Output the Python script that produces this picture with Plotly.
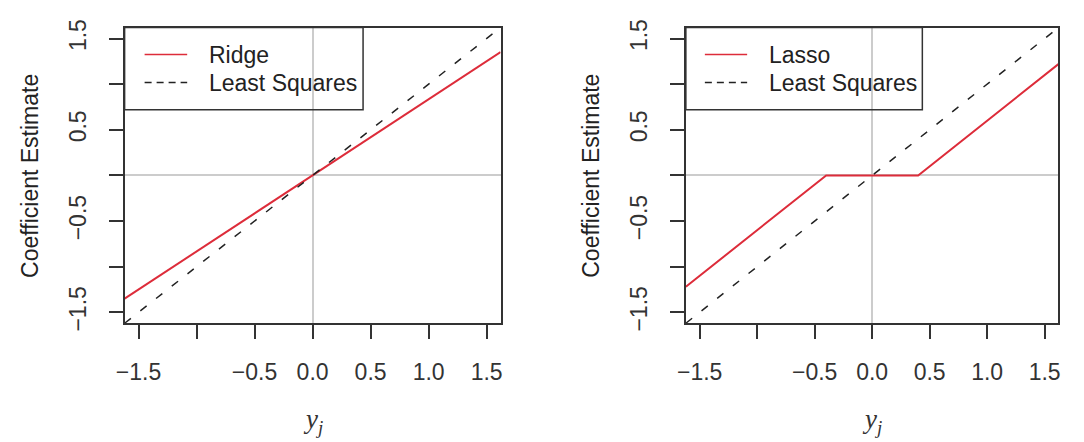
import plotly.graph_objects as go

# ---- data ----
ls_x = [-1.62, 1.62]
ls_y = [-1.62, 1.62]
ridge_x = [-1.62, 1.62]
ridge_y = [-1.35, 1.35]
lasso_x = [-1.62, -0.40, 0.40, 1.62]
lasso_y = [-1.22, 0.0, 0.0, 1.22]

tick_vals = [-1.5, -1.0, -0.5, 0.0, 0.5, 1.0, 1.5]
x_tick_text = ["\u22121.5", "", "\u22120.5", "0.0", "0.5", "1.0", "1.5"]
y_tick_text = ["\u22121.5", "", "\u22120.5", "", "0.5", "", "1.5"]

W, H = 1084, 442
RED = "#DD2C3A"
DARK = "#333333"
FONT = "Liberation Sans, Arial, sans-serif"
FS = 23

def px(x):
    return x / W

def py(y):
    return 1 - y / H

fig = go.Figure()

fig.add_trace(go.Scatter(x=ridge_x, y=ridge_y, mode="lines",
                         line=dict(color=RED, width=2), xaxis="x", yaxis="y",
                         showlegend=False))
fig.add_trace(go.Scatter(x=ls_x, y=ls_y, mode="lines",
                         line=dict(color="#222222", width=1.5, dash="8px,12px"),
                         xaxis="x", yaxis="y", showlegend=False))
fig.add_trace(go.Scatter(x=lasso_x, y=lasso_y, mode="lines",
                         line=dict(color=RED, width=2), xaxis="x2", yaxis="y2",
                         showlegend=False))
fig.add_trace(go.Scatter(x=ls_x, y=ls_y, mode="lines",
                         line=dict(color="#222222", width=1.5, dash="8px,12px"),
                         xaxis="x2", yaxis="y2", showlegend=False))

xcommon = dict(range=[-1.62, 1.62], tickvals=tick_vals, ticktext=x_tick_text,
               ticks="outside", ticklen=14, tickwidth=1.5, tickcolor=DARK,
               showline=True, linecolor=DARK, linewidth=1.5, mirror=True,
               showgrid=False, zeroline=True, zerolinecolor="#CCCCCC",
               zerolinewidth=1.5, tickfont=dict(family=FONT, size=FS, color=DARK),
               ticklabelstandoff=13, fixedrange=True)
ycommon = dict(range=[-1.62, 1.62], tickvals=tick_vals, ticktext=y_tick_text,
               ticks="outside", ticklen=14, tickwidth=1.5, tickcolor=DARK,
               showline=True, linecolor=DARK, linewidth=1.5, mirror=True,
               showgrid=False, zeroline=True, zerolinecolor="#CCCCCC",
               zerolinewidth=1.5, tickangle=-90,
               tickfont=dict(family=FONT, size=FS, color=DARK),
               ticklabelstandoff=14, fixedrange=True)

fig.update_layout(
    width=W, height=H,
    margin=dict(l=0, r=0, t=0, b=0),
    paper_bgcolor="white", plot_bgcolor="white",
    xaxis=dict(domain=[px(116.8), px(496.6)], anchor="y", **xcommon),
    yaxis=dict(domain=[py(327.1), py(20.3)], anchor="x", **ycommon),
    xaxis2=dict(domain=[px(683.8), px(1060.2)], anchor="y2", **xcommon),
    yaxis2=dict(domain=[py(327.1), py(20.3)], anchor="x2", **ycommon),
)

shapes = []
annotations = []

def add_panel_deco(box_l, box_r, line_l, line_r, text_x, label, ytitle_x, xtitle_x):
    shapes.append(dict(type="rect", xref="paper", yref="paper",
                       x0=px(box_l), x1=px(box_r), y0=py(105.7), y1=py(20.3),
                       line=dict(color=DARK, width=1.5), fillcolor="rgba(0,0,0,0)"))
    shapes.append(dict(type="line", xref="paper", yref="paper",
                       x0=px(line_l), x1=px(line_r), y0=py(48.3), y1=py(48.3),
                       line=dict(color=RED, width=1.5)))
    shapes.append(dict(type="line", xref="paper", yref="paper",
                       x0=px(line_l), x1=px(line_r), y0=py(77.3), y1=py(77.3),
                       line=dict(color="#222222", width=1.3, dash="7px,5px")))
    annotations.append(dict(xref="paper", yref="paper", x=px(text_x), y=py(48.3),
                            text=label, showarrow=False, xanchor="left", yanchor="middle",
                            font=dict(family=FONT, size=FS, color="#222222")))
    annotations.append(dict(xref="paper", yref="paper", x=px(text_x), y=py(77.3),
                            text="Least Squares", showarrow=False, xanchor="left",
                            yanchor="middle",
                            font=dict(family=FONT, size=FS, color="#222222")))
    annotations.append(dict(xref="paper", yref="paper", x=px(ytitle_x), y=py(173.7),
                            text="Coefficient Estimate", textangle=-90, showarrow=False,
                            xanchor="center", yanchor="middle",
                            font=dict(family=FONT, size=FS, color="#222222")))
    annotations.append(dict(xref="paper", yref="paper", x=px(xtitle_x), y=py(428),
                            text="<i>y</i><sub><i>j</i></sub>", showarrow=False,
                            xanchor="center", yanchor="middle",
                            font=dict(family="Liberation Serif, DejaVu Serif, serif",
                                      size=27, color="#333333")))

add_panel_deco(116.8, 357.7, 137, 180, 200, "Ridge", 21.7, 306.7)
add_panel_deco(683.8, 922.7, 703, 745.7, 766, "Lasso", 588.3, 872.0)

fig.update_layout(shapes=shapes, annotations=annotations)

fig.write_html("out.html",
               config={"displayModeBar": False},
               post_script="document.body.style.margin='0';"
                           "document.body.style.overflow='hidden';")
